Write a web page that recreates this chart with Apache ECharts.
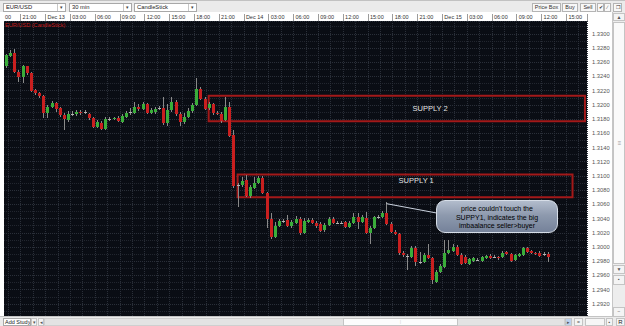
<!DOCTYPE html>
<html>
<head>
<meta charset="utf-8">
<title>EUR/USD 30 min CandleStick</title>
<script src="https://cdn.jsdelivr.net/npm/echarts@6.0.0/dist/echarts.min.js"></script>
<style>
 html,body{margin:0;padding:0;width:625px;height:326px;overflow:hidden;background:#ffffff;}
 #chart{position:absolute;left:0;top:0;width:625px;height:326px;z-index:1;}
 .ui{position:absolute;box-sizing:border-box;font-family:"Liberation Sans",Arial,sans-serif;color:#222;white-space:nowrap;overflow:hidden;z-index:5;}
 .bar{background:#ebebeb;}
 .box{border:1px solid #a8a8a8;background:#fff;font-size:5.8px;line-height:7px;padding-left:2px;}
 .btn{border:1px solid #b4b4b4;background:#f8f8f8;font-size:5.5px;line-height:7px;text-align:center;color:#333;}
 .arr{position:absolute;right:0;top:0;width:7px;height:7px;border-left:1px solid #c8c8c8;font-size:5px;line-height:7px;text-align:center;color:#444;}
 .sb{border:1px solid #c4c4c4;background:#f4f4f4;font-size:5px;line-height:7px;text-align:center;color:#555;}
 #callout{position:absolute;left:436px;top:200px;width:122px;height:33px;box-sizing:border-box;padding-top:4px;
   border-radius:9px;border:1.5px solid #d6dde7;
   background:linear-gradient(to bottom,#b2bccc 0%,#8e9aae 45%,#75829a 100%);
   font-family:"Liberation Sans",Arial,sans-serif;font-size:7px;line-height:8.5px;color:#000000;text-align:center;white-space:pre;z-index:4;}
</style>
</head>
<body>
<div id="chart"></div>
<div id="callout"></div>

<!-- top toolbar -->
<div class="ui bar" style="left:0;top:0;width:625px;height:12px;border-top:1px solid #c2c2c2"></div>
<div class="ui box" style="left:3px;top:3px;width:63px;height:9px">EUR/USD<span class="arr">▾</span></div>
<div class="ui box" style="left:69px;top:3px;width:63px;height:9px">30 min<span class="arr">▾</span></div>
<div class="ui box" style="left:134px;top:3px;width:63px;height:9px">CandleStick<span class="arr">▾</span></div>
<div class="ui btn" style="left:532px;top:3px;width:29px;height:9px">Price Box</div>
<div class="ui btn" style="left:562px;top:3px;width:16px;height:9px">Buy</div>
<div class="ui btn" style="left:580px;top:3px;width:16px;height:9px">Sell</div>
<div class="ui btn" style="left:597px;top:3px;width:7px;height:9px;font-size:5px">✔</div>
<div class="ui btn" style="left:604px;top:3px;width:7px;height:9px;font-size:5px">∕</div>
<div class="ui btn" style="left:613px;top:3px;width:9px;height:9px;font-size:5px">❐</div>

<!-- right vertical scrollbar -->
<div class="ui" style="left:612px;top:12px;width:13px;height:305px;background:#ededed;border-left:1px solid #c6c6c6"></div>
<div class="ui sb" style="left:613px;top:13px;width:12px;height:8px">▲</div>
<div class="ui sb" style="left:613px;top:22px;width:12px;height:242px;background:#fafafa"></div>
<div class="ui" style="left:615px;top:139px;width:9px;height:8px;font-size:6px;line-height:8px;text-align:center;color:#999">≡</div>
<div class="ui sb" style="left:613px;top:265px;width:12px;height:9px">▼</div>
<div class="ui sb" style="left:613px;top:275px;width:12px;height:10px">▪</div>
<div class="ui sb" style="left:613px;top:307px;width:12px;height:10px">−</div>

<!-- bottom bar -->
<div class="ui bar" style="left:0;top:316px;width:625px;height:10px;border-top:1px solid #c4c4c4"></div>
<div class="ui box" style="left:3px;top:318px;width:28px;height:8px;font-size:5.5px;line-height:6px;padding-left:1px">Add Study</div>
<div class="ui sb" style="left:31px;top:318px;width:6px;height:8px;line-height:6px">▾</div>
<div class="ui sb" style="left:38px;top:318px;width:6px;height:8px;line-height:6px">◂</div>
<div class="ui" style="left:44px;top:318px;width:521px;height:8px;background:#e3e3e3;border:1px solid #cfcfcf"></div>
<div class="ui sb" style="left:343px;top:318px;width:115px;height:8px;background:#fcfcfc;line-height:6px;color:#aaa">⁞</div>
<div class="ui sb" style="left:565px;top:318px;width:7px;height:8px;background:#bdd2ee;line-height:6px">▸</div>
<div class="ui sb" style="left:574px;top:318px;width:9px;height:8px;line-height:6px">=</div>
<div class="ui sb" style="left:585px;top:318px;width:20px;height:8px;background:#f6f6f6"></div>
<div class="ui sb" style="left:606px;top:318px;width:7px;height:8px;line-height:6px">▪</div>
<div class="ui sb" style="left:616px;top:318px;width:9px;height:8px;line-height:6px;font-size:6px;color:#222">R</div>

<script>
// ---- data (EUR/USD, 30-minute candles, Dec 12 19:00 -> Dec 15 12:30) ----
const open = [
 1.3254,1.3269,1.3273,1.3246,1.3239,1.3254,1.3245,1.3221,1.3217,1.3213,
 1.3189,1.3197,1.3203,1.3196,1.3186,1.3179,1.3187,1.3187,1.3190,1.3190,
 1.3187,1.3182,1.3169,1.3175,1.3166,1.3180,1.3180,1.3182,1.3176,1.3183,
 1.3190,1.3189,1.3197,1.3194,1.3201,1.3189,1.3190,1.3196,1.3196,1.3175,
 1.3193,1.3204,1.3187,1.3176,1.3183,1.3192,1.3200,1.3223,1.3208,1.3196,
 1.3201,1.3189,1.3187,1.3179,1.3197,1.3158,1.3087,1.3087,1.3094,1.3072,
 1.3083,1.3090,1.3097,1.3076,1.3039,1.3014,1.3030,1.3037,1.3038,1.3030,
 1.3034,1.3039,1.3020,1.3035,1.3038,1.3034,1.3032,1.3024,1.3031,1.3039,
 1.3034,1.3034,1.3035,1.3028,1.3034,1.3042,1.3035,1.3041,1.3020,1.3027,
 1.3042,1.3042,1.3048,1.3032,1.3021,1.3018,1.2992,1.2987,1.2986,1.2999,
 1.2979,1.2979,1.2989,1.2984,1.2951,1.2965,1.2972,1.2992,1.2994,1.3000,
 1.2989,1.2986,1.2976,1.2980,1.2982,1.2980,1.2984,1.2987,1.2986,1.2986,
 1.2986,1.2993,1.2990,1.2982,1.2987,1.2989,1.2999,1.2994,1.2992,1.2992,
 1.2990,1.2990
];
const close = [
 1.3270,1.3273,1.3246,1.3239,1.3254,1.3245,1.3220,1.3217,1.3213,1.3189,
 1.3197,1.3203,1.3194,1.3186,1.3180,1.3187,1.3187,1.3190,1.3189,1.3190,
 1.3182,1.3169,1.3176,1.3166,1.3180,1.3180,1.3181,1.3177,1.3185,1.3189,
 1.3190,1.3197,1.3194,1.3201,1.3189,1.3193,1.3194,1.3196,1.3175,1.3193,
 1.3204,1.3187,1.3176,1.3183,1.3192,1.3200,1.3223,1.3208,1.3194,1.3201,
 1.3189,1.3187,1.3177,1.3197,1.3156,1.3086,1.3087,1.3093,1.3072,1.3084,
 1.3090,1.3097,1.3076,1.3039,1.3014,1.3030,1.3037,1.3037,1.3030,1.3035,
 1.3039,1.3020,1.3037,1.3038,1.3034,1.3030,1.3023,1.3031,1.3039,1.3034,
 1.3034,1.3034,1.3028,1.3034,1.3042,1.3035,1.3042,1.3020,1.3027,1.3042,
 1.3042,1.3048,1.3032,1.3021,1.3018,1.2992,1.2989,1.2987,1.2999,1.2979,
 1.2979,1.2989,1.2984,1.2954,1.2965,1.2973,1.2992,1.2996,1.3000,1.2989,
 1.2976,1.2977,1.2983,1.2984,1.2982,1.2986,1.2987,1.2984,1.2986,1.2984,
 1.2992,1.2990,1.2980,1.2989,1.2990,1.2999,1.2993,1.2992,1.2990,1.2987,
 1.2990,1.2986
];
const high = [
 1.3272,1.3277,1.3279,1.3249,1.3256,1.3255,1.3246,1.3223,1.3218,1.3214,
 1.3200,1.3206,1.3204,1.3197,1.3189,1.3192,1.3192,1.3193,1.3193,1.3193,
 1.3189,1.3183,1.3179,1.3177,1.3183,1.3183,1.3183,1.3185,1.3187,1.3192,
 1.3196,1.3204,1.3201,1.3204,1.3203,1.3196,1.3197,1.3199,1.3211,1.3201,
 1.3211,1.3207,1.3190,1.3189,1.3196,1.3203,1.3238,1.3225,1.3211,1.3204,
 1.3203,1.3192,1.3190,1.3211,1.3204,1.3165,1.3090,1.3099,1.3101,1.3087,
 1.3099,1.3100,1.3100,1.3077,1.3048,1.3035,1.3039,1.3039,1.3045,1.3038,
 1.3044,1.3042,1.3041,1.3041,1.3041,1.3037,1.3035,1.3034,1.3042,1.3042,
 1.3037,1.3036,1.3037,1.3037,1.3048,1.3048,1.3045,1.3049,1.3030,1.3044,
 1.3045,1.3051,1.3063,1.3035,1.3024,1.3020,1.2994,1.2990,1.3001,1.3001,
 1.2993,1.2992,1.3004,1.2986,1.2968,1.2976,1.3010,1.3010,1.3004,1.3003,
 1.2992,1.2989,1.2984,1.2986,1.2984,1.2987,1.2989,1.2990,1.2989,1.2987,
 1.2994,1.2994,1.2992,1.2990,1.2992,1.3000,1.3000,1.2996,1.2993,1.2994,
 1.2993,1.2993
];
const low = [
 1.3252,1.3268,1.3245,1.3232,1.3231,1.3242,1.3218,1.3214,1.3210,1.3182,
 1.3182,1.3196,1.3190,1.3183,1.3165,1.3176,1.3185,1.3185,1.3186,1.3187,
 1.3179,1.3168,1.3168,1.3165,1.3165,1.3177,1.3179,1.3176,1.3175,1.3182,
 1.3186,1.3187,1.3192,1.3193,1.3187,1.3187,1.3187,1.3193,1.3172,1.3170,
 1.3190,1.3185,1.3170,1.3173,1.3182,1.3189,1.3199,1.3207,1.3193,1.3193,
 1.3186,1.3186,1.3175,1.3177,1.3155,1.3083,1.3056,1.3084,1.3070,1.3069,
 1.3082,1.3089,1.3075,1.3027,1.3011,1.3013,1.3028,1.3034,1.3028,1.3027,
 1.3032,1.3017,1.3018,1.3034,1.3032,1.3027,1.3021,1.3021,1.3030,1.3032,
 1.3032,1.3032,1.3027,1.3027,1.3032,1.3025,1.3034,1.3018,1.3004,1.3025,
 1.3039,1.3041,1.3031,1.3020,1.3017,1.2989,1.2986,1.2968,1.2984,1.2973,
 1.2976,1.2977,1.2983,1.2948,1.2949,1.2963,1.2970,1.2990,1.2993,1.2987,
 1.2975,1.2976,1.2975,1.2979,1.2980,1.2979,1.2983,1.2983,1.2984,1.2982,
 1.2984,1.2989,1.2979,1.2980,1.2986,1.2987,1.2992,1.2990,1.2989,1.2986,
 1.2987,1.2979
];
// top time-axis tick labels (every 6 candles = 3 hours, first at 21:00 Dec 12)
const tickLabels = ['21:00','Dec 13','03:00','06:00','09:00','12:00','15:00','18:00','21:00',
 'Dec 14','03:00','06:00','09:00','12:00','15:00','18:00','21:00',
 'Dec 15','03:00','06:00','09:00','12:00','15:00'];
// supply zones
const zoneNames  = ['SUPPLY 2', 'SUPPLY 1'];
const zoneFrom   = [49, 56.25];
const zoneTo     = [139.6, 137.2];
const zoneTop    = [1.3213, 1.3102];
const zoneBottom = [1.3177, 1.3070];
const chartTitle = 'EUR/USD (CandleStick)';
const calloutLines = ["price couldn't touch the", 'SUPPY1, indicates the big', 'imbaalance seller>buyer'];
const pointerFrom = [92, 1.3061];
const pointerTo   = [103.7, 1.3048];

document.getElementById('callout').textContent = calloutLines.join('\n');

// ---- build chart ----
const nSlots = 141;
const firstTickSlot = 4, slotsPerTick = 6;
const slots = Array.from({length: nSlots}, (_, i) => String(i));
const candleData = open.map((o, i) => [i, o, close[i], low[i], high[i]]);
const isTick = i => i >= firstTickSlot && (i - firstTickSlot) % slotsPerTick === 0;

const chart = echarts.init(document.getElementById('chart'), null, {renderer: 'svg'});

const gridLine = {color: '#2a2f39', width: 1, type: [1, 1]};

chart.setOption({
  animation: false,
  grid: {left: 4, right: 38, top: 21, bottom: 7.9, show: true, backgroundColor: '#0a0d14', borderWidth: 0},
  xAxis: {
    type: 'category', data: slots, position: 'top', boundaryGap: true,
    axisLine: {show: false},
    axisTick: {show: true, interval: i => isTick(i), length: 7, lineStyle: {color: '#9c9c9c'}},
    axisLabel: {
      interval: i => isTick(i),
      formatter: (v, i) => isTick(i) ? (tickLabels[(i - firstTickSlot) / slotsPerTick] || '') : '',
      align: 'left', fontSize: 5.5, color: '#333', margin: 1.5,
      fontFamily: '"Liberation Sans", Arial, sans-serif'
    },
    splitLine: {show: true, interval: i => i >= 1 && (i - 1) % 3 === 0, lineStyle: gridLine}
  },
  yAxis: {
    type: 'value', position: 'right', min: 1.29, max: 1.3318, interval: 0.002,
    axisLine: {show: false}, axisTick: {show: false},
    axisLabel: {showMaxLabel: false, formatter: v => v.toFixed(4), fontSize: 5.8, color: '#555', margin: 5,
      fontFamily: '"Liberation Sans", Arial, sans-serif'},
    splitLine: {show: true, lineStyle: gridLine},
    minorTick: {show: false, splitNumber: 2},
    minorSplitLine: {show: true, lineStyle: {color: '#22262f', width: 1, type: [1, 1]}}
  },
  series: [
    {
      type: 'custom', name: 'EUR/USD', data: candleData,
      encode: {x: 0, y: [1, 2, 3, 4]},
      renderItem: (params, api) => {
        const i = api.value(0), o = api.value(1), c = api.value(2), l = api.value(3), h = api.value(4);
        const pO = api.coord([i, o]), pC = api.coord([i, c]);
        const pL = api.coord([i, l]), pH = api.coord([i, h]);
        const cx = Math.round(pO[0]);
        const top = Math.round(Math.min(pO[1], pC[1]));
        const bot = Math.round(Math.max(pO[1], pC[1]));
        const fill = c > o ? '#3aad3a' : (c < o ? '#c91f1f' : '#b4b4b4');
        return {type: 'group', children: [
          {type: 'line', shape: {x1: cx + 0.5, y1: Math.round(pH[1]), x2: cx + 0.5, y2: Math.round(pL[1])},
           style: {stroke: '#8a8a8a', lineWidth: 1}},
          {type: 'rect', shape: {x: cx - 1, y: top, width: 3, height: Math.max(bot - top, 1)},
           style: {fill: fill}}
        ]};
      }
    },
    {
      type: 'line', data: [], silent: true, symbol: 'none',
      markArea: {
        silent: true,
        itemStyle: {color: 'rgba(0,0,0,0)', borderColor: '#a31919', borderWidth: 2},
        data: zoneNames.map((name, k) => [
          {name: name, xAxis: zoneFrom[k], yAxis: zoneTop[k],
           label: {show: true, position: k === 0 ? ['58.8%', '50%'] : ['53.3%', '30%'],
             align: 'center', verticalAlign: 'middle', color: '#e4e4e4', fontSize: 7.5,
             fontFamily: '"Liberation Sans", Arial, sans-serif'}},
          {xAxis: zoneTo[k], yAxis: zoneBottom[k]}
        ])
      },
      markLine: {
        silent: true, symbol: ['none', 'none'],
        lineStyle: {color: '#c9d1dd', width: 1, type: 'solid'},
        label: {show: false},
        data: [[{coord: pointerFrom}, {coord: pointerTo}]]
      }
    }
  ],
  graphic: [
    {type: 'text', left: 5, top: 21.5, z: 100,
     style: {text: chartTitle, fill: '#c41b1b', font: '5.6px "Liberation Sans", Arial, sans-serif'}},
    {type: 'text', left: 5, top: 14, z: 100,
     style: {text: '00', fill: '#333', font: '5.5px "Liberation Sans", Arial, sans-serif'}}
  ]
});
</script>
</body>
</html>
